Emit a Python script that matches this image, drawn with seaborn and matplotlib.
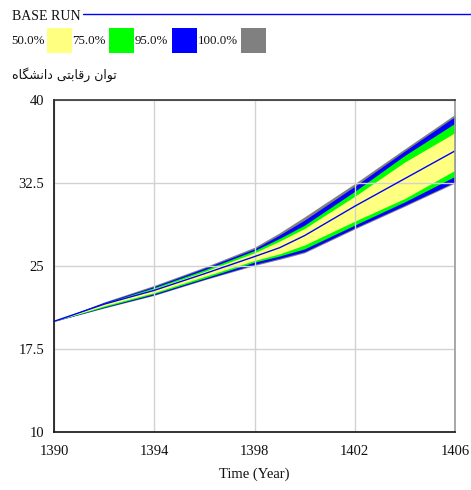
import matplotlib
matplotlib.use("Agg")
import matplotlib.pyplot as plt
from matplotlib.lines import Line2D
from matplotlib.patches import Rectangle
import numpy as np
import pandas as pd
import seaborn as sns

# Simulation time (solar hijri years)
years = [1390, 1392, 1394, 1396, 1398, 1399, 1400, 1402, 1404, 1406]

# Base run of the university competitiveness index
base_run = [20.0, 21.55, 22.8, 24.3, 25.85, 26.65, 27.75, 30.4, 32.9, 35.4]

# Sensitivity confidence bounds
max_100 = [20.0, 21.75, 23.25, 24.9, 26.7, 28.0, 29.45, 32.45, 35.6, 38.7]
upper_95 = [20.0, 21.7, 23.15, 24.8, 26.55, 27.8, 29.15, 32.2, 35.4, 38.5]
upper_75 = [20.0, 21.65, 23.05, 24.65, 26.4, 27.5, 28.7, 31.75, 35.0, 37.9]
upper_50 = [20.0, 21.6, 22.95, 24.5, 26.2, 27.25, 28.4, 31.3, 34.4, 37.05]
lower_50 = [20.0, 21.4, 22.6, 24.05, 25.5, 26.1, 26.9, 29.05, 31.1, 33.65]
lower_75 = [20.0, 21.3, 22.5, 23.9, 25.35, 25.9, 26.55, 28.7, 30.8, 33.1]
lower_95 = [20.0, 21.25, 22.4, 23.8, 25.15, 25.7, 26.3, 28.45, 30.5, 32.6]
min_100 = [20.0, 21.2, 22.35, 23.75, 25.05, 25.6, 26.2, 28.35, 30.4, 32.5]

band_labels = ["50.0%", "75.0%", "95.0%", "100.0%"]
band_colors = ["#ffff80", "#00ff00", "#0000ff", "#808080"]

x_ticks = [1390, 1394, 1398, 1402, 1406]
y_ticks = [10, 17.5, 25, 32.5, 40]
y_tick_labels = ["10", "17.5", "25", "32.5", "40"]

# "توان رقابتی دانشگاه" written with Arabic presentation forms, word by word
variable_name = "\uFEE9\uFE8E\uFB95\uFEB8\uFEE7\uFE8D\uFEA9 \uFBFD\uFE98\uFE91\uFE8E\uFED7\uFEAD \uFEE5\uFE8D\uFEEE\uFE97"

sns.set_style("white")
plt.rcParams["font.family"] = ["Liberation Serif", "DejaVu Sans"]

W, H = 471, 490
fig = plt.figure(figsize=(W / 100, H / 100), dpi=100)
ax = fig.add_axes([54 / W, 1 - 432 / H, (455 - 54) / W, (432 - 100) / H])

# Nested confidence bands, widest first
bands = [
    (min_100, max_100, band_colors[3]),
    (lower_95, upper_95, band_colors[2]),
    (lower_75, upper_75, band_colors[1]),
    (lower_50, upper_50, band_colors[0]),
]
for lo, hi, col in bands:
    ax.fill_between(years, lo, hi, color=col, lw=0, zorder=1)

df = pd.DataFrame({"Time": years, "value": base_run})
sns.lineplot(data=df, x="Time", y="value", color="#0000ff", lw=1.0, ax=ax, zorder=3)

ax.set_xlim(1390, 1406)
ax.set_ylim(10, 40)
ax.set_xticks(x_ticks)
ax.set_xticklabels([str(t) for t in x_ticks])
ax.set_yticks(y_ticks)
ax.set_yticklabels(y_tick_labels)
ax.set_axisbelow(False)
ax.grid(True, color="#d2d2d2", lw=1.0)
ax.tick_params(length=0, labelsize=10.5, colors="#111111")
ax.tick_params(axis="x", pad=9)
ax.tick_params(axis="y", pad=7)

ax.set_xlabel("Time (Year)", fontsize=10.5, labelpad=7, color="#111111")
ax.set_ylabel("")

for side in ["left", "bottom"]:
    ax.spines[side].set_color("#111111")
    ax.spines[side].set_linewidth(1.2)
ax.spines["top"].set_color("#333333")
ax.spines["top"].set_linewidth(1.2)
ax.spines["right"].set_color("#999999")
ax.spines["right"].set_linewidth(1.2)
for s in ax.spines.values():
    s.set_zorder(4)

# Header: base run key
fig.text(12 / W, 1 - 16 / H, "BASE RUN", fontsize=10, va="center", ha="left", color="#111111")
fig.add_artist(Line2D([83 / W, 1.0], [1 - 14 / H, 1 - 14 / H], color="#0000ff", lw=1.0))

# Confidence band key
text_x = [11, 72, 135, 198]
box_x = [47, 109, 172, 241]
for lab, col, tx, bx in zip(band_labels, band_colors, text_x, box_x):
    fig.text(tx / W, 1 - 41 / H, lab, fontsize=9.3, va="center", ha="left", color="#111111")
    fig.add_artist(Rectangle((bx / W, 1 - 53.5 / H), 25 / W, 25 / H,
                             transform=fig.transFigure, facecolor=col, edgecolor="none"))

fig.text(12 / W, 1 - 75 / H, variable_name, fontsize=9, va="center", ha="left",
         color="#111111", family=["DejaVu Sans"])

fig.savefig("out.png", dpi=100)
